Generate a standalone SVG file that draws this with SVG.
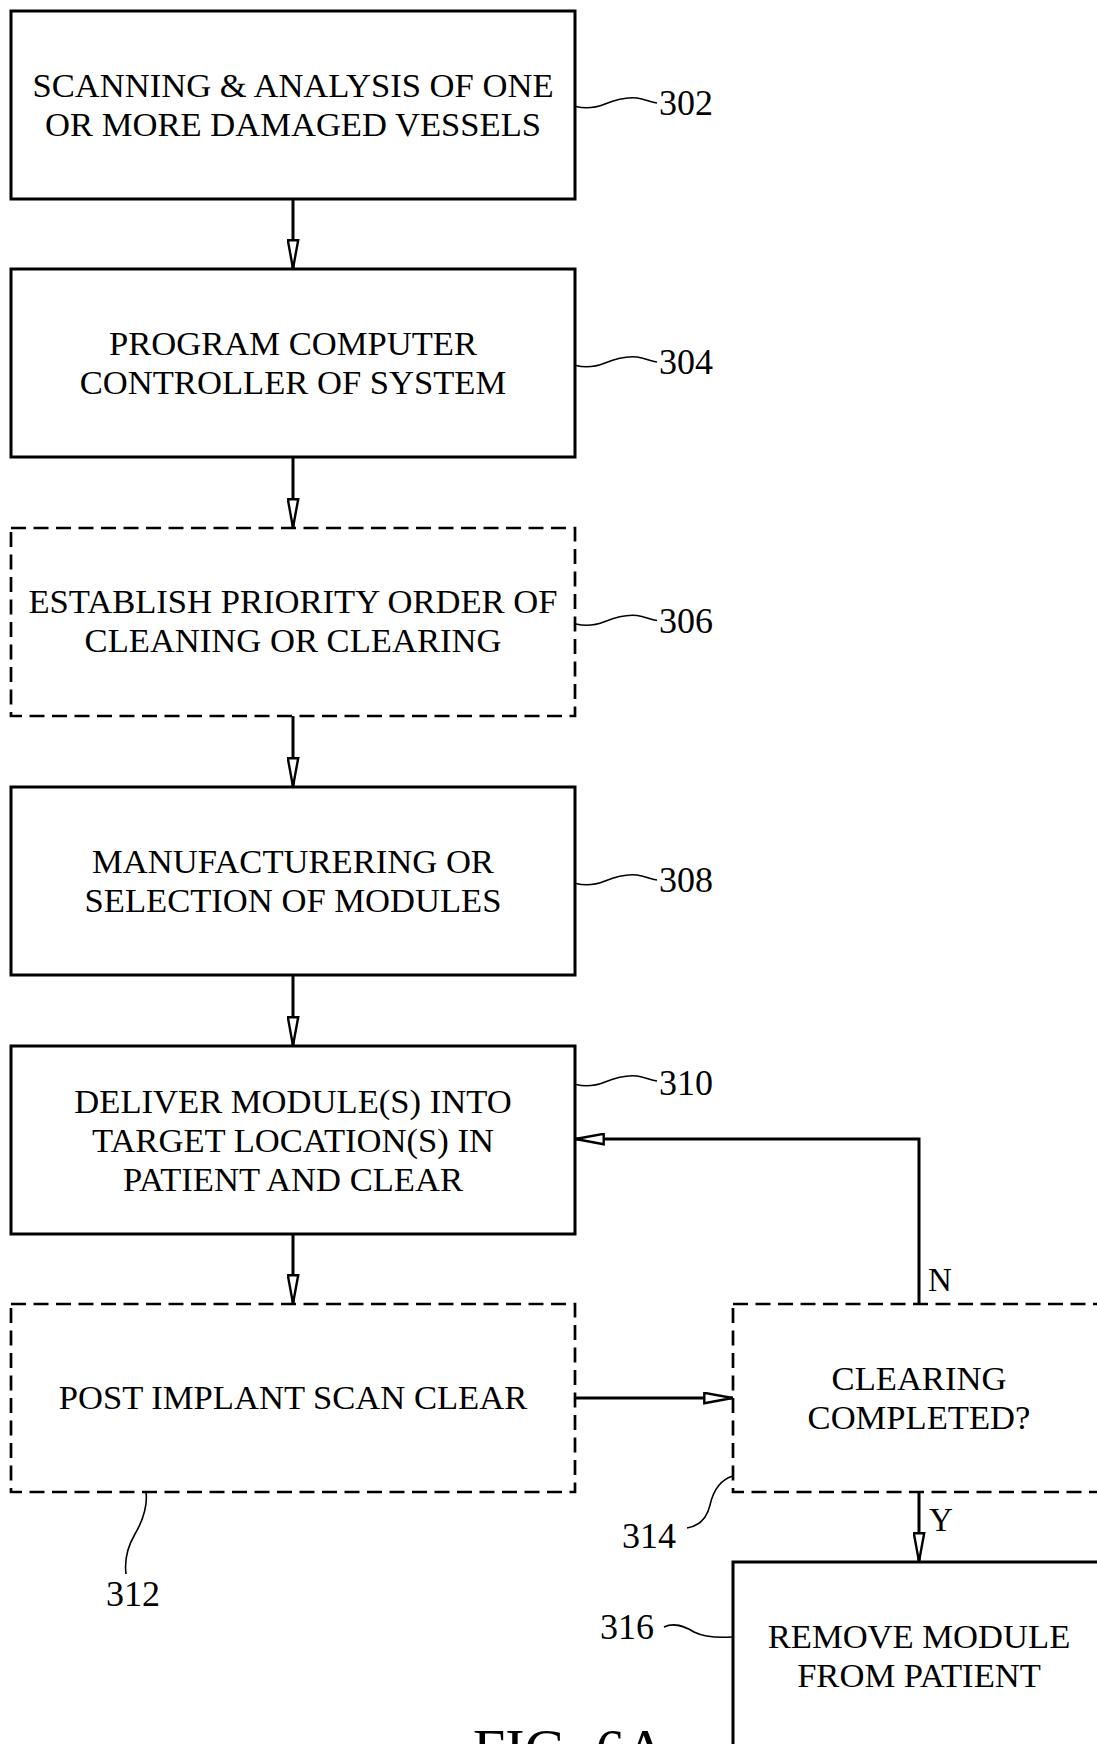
<svg xmlns="http://www.w3.org/2000/svg" width="1097" height="1744" viewBox="0 0 1097 1744">
<style>
.box{fill:#fff;stroke:#000;stroke-width:3}
.dash{fill:#fff;stroke:#000;stroke-width:2.7;stroke-dasharray:15 7.5}
.t{font-family:"Liberation Serif","Times New Roman",serif;font-size:34.6px;fill:#000;text-anchor:middle}
.lbl{font-family:"Liberation Serif","Times New Roman",serif;font-size:36px;fill:#000}
.yn{font-family:"Liberation Serif","Times New Roman",serif;font-size:33px;fill:#000}
.con{fill:none;stroke:#000;stroke-width:3}
.lead{fill:none;stroke:#000;stroke-width:1.6}
</style>
<defs>
<marker id="arr" viewBox="0 0 31 13" refX="30" refY="6.5" markerWidth="31" markerHeight="13" markerUnits="userSpaceOnUse" orient="auto">
<path d="M1.3,1.3 L29.5,6.5 L1.3,11.7 Z" fill="#fff" stroke="#000" stroke-width="2.4" stroke-linejoin="miter"/>
</marker>
</defs>
<rect width="1097" height="1744" fill="#fff"/>

<g id="n302">
<rect class="box" x="11" y="11" width="564" height="188"/>
<text class="t" x="293" y="97">SCANNING &amp; ANALYSIS OF ONE</text>
<text class="t" x="293" y="136">OR MORE DAMAGED VESSELS</text>
</g>
<g id="n304">
<rect class="box" x="11" y="269" width="564" height="188"/>
<text class="t" x="293" y="355">PROGRAM COMPUTER</text>
<text class="t" x="293" y="394">CONTROLLER OF SYSTEM</text>
</g>
<g id="n306">
<rect class="dash" x="11" y="528" width="564" height="188"/>
<text class="t" x="293" y="613">ESTABLISH PRIORITY ORDER OF</text>
<text class="t" x="293" y="652">CLEANING OR CLEARING</text>
</g>
<g id="n308">
<rect class="box" x="11" y="787" width="564" height="188"/>
<text class="t" x="293" y="873">MANUFACTURERING OR</text>
<text class="t" x="293" y="912">SELECTION OF MODULES</text>
</g>
<g id="n310">
<rect class="box" x="11" y="1046" width="564" height="188"/>
<text class="t" x="293" y="1113">DELIVER MODULE(S) INTO</text>
<text class="t" x="293" y="1152">TARGET LOCATION(S) IN</text>
<text class="t" x="293" y="1191">PATIENT AND CLEAR</text>
</g>
<g id="n312">
<rect class="dash" x="11" y="1304" width="564" height="188"/>
<text class="t" x="293" y="1409">POST IMPLANT SCAN CLEAR</text>
</g>
<g id="n314">
<rect class="dash" x="733" y="1304" width="564" height="188"/>
<text class="t" x="919" y="1390">CLEARING</text>
<text class="t" x="919" y="1429">COMPLETED?</text>
</g>
<g id="n316">
<rect class="box" x="733" y="1562" width="564" height="200"/>
<text class="t" x="919" y="1648">REMOVE MODULE</text>
<text class="t" x="919" y="1687">FROM PATIENT</text>
</g>

<g id="connectors">
<path class="con" d="M293,199 V269" marker-end="url(#arr)"/>
<path class="con" d="M293,457 V528" marker-end="url(#arr)"/>
<path class="con" d="M293,716 V787" marker-end="url(#arr)"/>
<path class="con" d="M293,975 V1046" marker-end="url(#arr)"/>
<path class="con" d="M293,1234 V1304" marker-end="url(#arr)"/>
<path class="con" d="M575,1398 H733" marker-end="url(#arr)"/>
<path class="con" d="M919,1304 V1139 H575" marker-end="url(#arr)"/>
<path class="con" d="M919,1492 V1562" marker-end="url(#arr)"/>
<text class="yn" x="928" y="1291">N</text>
<text class="yn" x="929" y="1531">Y</text>
</g>

<g id="leaders">
<path class="lead" d="M576,106.5 C586,109 595,108 605,104 C615,100 625,96.5 637,98 C645,99 650,102 657,103"/>
<path class="lead" d="M576,365.5 C586,368 595,367 605,363 C615,359 625,355.5 637,357 C645,358 650,361 657,362"/>
<path class="lead" d="M576,624 C586,626.5 595,625.5 605,621.5 C615,617.5 625,614 637,615.5 C645,616.5 650,619.5 657,620.5"/>
<path class="lead" d="M576,883.5 C586,886 595,885 605,881 C615,877 625,873.5 637,875 C645,876 650,879 657,880"/>
<path class="lead" d="M576,1084.5 C586,1087 595,1086 605,1082 C615,1078 625,1074.5 637,1076 C645,1077 650,1080 657,1081"/>
<path class="lead" d="M146,1492 C148,1508 142,1522 135,1534 C128,1546 124,1558 126,1574"/>
<path class="lead" d="M733,1476 C719,1480 713,1492 710,1505 C707,1518 699,1526 687,1528"/>
<path class="lead" d="M664,1627 C674,1622 684,1626 694,1632 C704,1637 716,1638 732,1637"/>
<text class="lbl" x="659" y="115">302</text>
<text class="lbl" x="659" y="374">304</text>
<text class="lbl" x="659" y="633">306</text>
<text class="lbl" x="659" y="892">308</text>
<text class="lbl" x="659" y="1095">310</text>
<text class="lbl" x="106" y="1606">312</text>
<text class="lbl" x="622" y="1548">314</text>
<text class="lbl" x="600" y="1639">316</text>
</g>

<text x="473" y="1769" font-family="Liberation Serif,'Times New Roman',serif" font-size="58" fill="#000">FIG. 6A</text>
</svg>
